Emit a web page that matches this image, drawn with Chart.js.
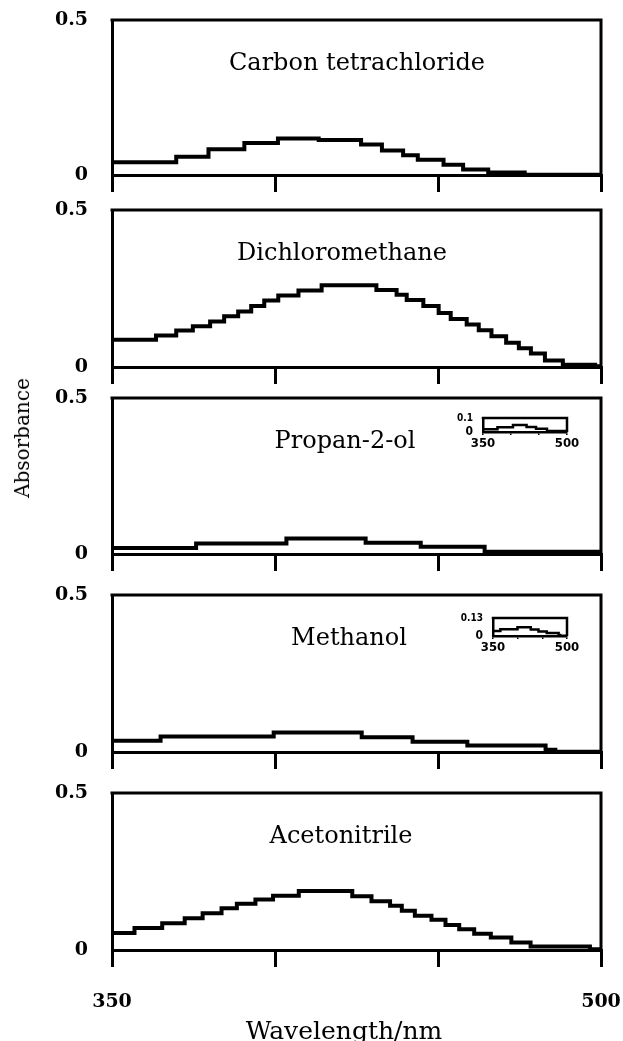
<!DOCTYPE html>
<html>
<head>
<meta charset="utf-8">
<script src="https://cdn.jsdelivr.net/npm/chart.js@4.4.0/dist/chart.umd.min.js"></script>
<style>
  body { margin: 0; background: #fff; width: 623px; height: 1041px; position: relative; overflow: hidden; }
  canvas { position: absolute; left: 0; }
  .lbl { position: absolute; font-family: "DejaVu Serif", serif; color: #000; white-space: nowrap; }
  #ylab { left: 22px; top: 438px; font-size: 20px; transform: translate(-50%, -50%) rotate(-90deg); }
  #xlab { left: 344px; top: 1030px; font-size: 25px; transform: translate(-50%, -50%); }
</style>
</head>
<body>
<canvas id="p1"></canvas>
<canvas id="p2"></canvas>
<canvas id="p3"></canvas>
<canvas id="p4"></canvas>
<canvas id="p5"></canvas>
<canvas id="i3"></canvas>
<canvas id="i4"></canvas>
<div class="lbl" id="ylab">Absorbance</div>
<div class="lbl" id="xlab">Wavelength/nm</div>
<script>
// wavelength ticks (nm)
const nmTicks = [350, 400, 450, 500];

// step start wavelengths and absorbance for each solvent
const ccl4Edges = [350, 369.7, 379.6, 390.6, 400.9, 413.4, 426.4, 432.8, 439.3, 443.8, 451.7, 457.7, 465.4, 476.6];
const ccl4Abs   = [0.041, 0.059, 0.083, 0.103, 0.118, 0.113, 0.098, 0.079, 0.064, 0.049, 0.033, 0.018, 0.008, 0.001];

const dcmEdges = [350, 363.5, 369.7, 374.8, 380.1, 384.4, 388.7, 392.7, 396.7, 401.0, 407.2, 414.3, 431.1, 437.3,
                  440.4, 445.5, 450.2, 453.9, 458.8, 462.5, 466.4, 470.9, 474.8, 478.5, 482.8, 488.3, 498.2];
const dcmAbs   = [0.087, 0.100, 0.116, 0.130, 0.145, 0.162, 0.177, 0.194, 0.212, 0.228, 0.244, 0.260, 0.245, 0.230,
                  0.213, 0.194, 0.172, 0.153, 0.135, 0.117, 0.098, 0.077, 0.060, 0.043, 0.021, 0.007, 0.002];

const iprEdges = [350, 375.8, 403.5, 427.8, 444.7, 464.3];
const iprAbs   = [0.019, 0.034, 0.050, 0.036, 0.023, 0.007];

const meohEdges = [350, 364.9, 399.6, 426.6, 442.2, 459.0, 483.0, 486.0];
const meohAbs   = [0.036, 0.049, 0.0625, 0.047, 0.033, 0.021, 0.007, 0.001];

const mecnEdges = [350, 356.9, 365.4, 372.3, 377.8, 383.6, 388.3, 394.0, 399.4, 407.3, 423.7, 429.6, 435.3, 438.9,
                   442.9, 448.0, 452.3, 456.5, 461.1, 466.2, 472.5, 478.4, 496.6];
const mecnAbs   = [0.054, 0.070, 0.085, 0.101, 0.117, 0.133, 0.147, 0.161, 0.173, 0.188, 0.171, 0.155, 0.141, 0.125,
                   0.109, 0.096, 0.080, 0.066, 0.052, 0.040, 0.024, 0.011, 0.002];

const solventNames = ['Carbon tetrachloride', 'Dichloromethane', 'Propan-2-ol', 'Methanol', 'Acetonitrile'];

function steps(edges, vals) {
  const pts = edges.map((x, i) => ({ x: x, y: vals[i] }));
  pts.push({ x: 500, y: vals[vals.length - 1] });
  return pts;
}

// keep the plot box where it is set, whatever the tick labels overhang
function noPad(s) {
  s.paddingTop = 0; s.paddingBottom = 0; s.paddingLeft = 0; s.paddingRight = 0;
}

// top and right edges of the box, plus the solvent name
const framePlugin = {
  id: 'frame',
  afterDraw(chart, args, opts) {
    const a = chart.chartArea, ctx = chart.ctx;
    ctx.save();
    ctx.strokeStyle = '#000';
    ctx.lineWidth = opts.width;
    ctx.beginPath();
    ctx.moveTo(a.left - opts.width / 2, a.top);
    ctx.lineTo(a.right, a.top);
    ctx.lineTo(a.right, a.bottom);
    ctx.stroke();
    if (opts.name) {
      ctx.fillStyle = '#000';
      ctx.font = '24px "DejaVu Serif", serif';
      ctx.textAlign = 'center';
      ctx.textBaseline = 'middle';
      ctx.fillText(opts.name, opts.nameX, a.top + opts.nameDy);
    }
    ctx.restore();
  }
};
Chart.register(framePlugin);

const panels = [
  { id: 'p1', top: 20,  zero: 175, edges: ccl4Edges, vals: ccl4Abs, nameX: 357 },
  { id: 'p2', top: 210, zero: 367, edges: dcmEdges,  vals: dcmAbs,  nameX: 342 },
  { id: 'p3', top: 398, zero: 554, edges: iprEdges,  vals: iprAbs,  nameX: 345 },
  { id: 'p4', top: 595, zero: 752, edges: meohEdges, vals: meohAbs, nameX: 349 },
  { id: 'p5', top: 793, zero: 950, edges: mecnEdges, vals: mecnAbs, nameX: 341, last: true }
];

const tickFont = { family: '"DejaVu Serif", serif', size: 19, weight: 'bold' };

panels.forEach(function (p, idx) {
  const padTop = 14;
  const axisH = p.last ? 72 : 20;
  const cv = document.getElementById(p.id);
  const h = (p.zero - p.top) + padTop + axisH;
  cv.width = 623; cv.height = h;
  cv.style.top = (p.top - padTop) + 'px';
  cv.style.width = '623px'; cv.style.height = h + 'px';

  new Chart(cv, {
    type: 'line',
    data: {
      datasets: [{
        data: steps(p.edges, p.vals),
        stepped: 'before',
        borderColor: '#000',
        borderWidth: 4,
        pointRadius: 0,
        fill: false
      }]
    },
    options: {
      responsive: false,
      animation: false,
      layout: { padding: { top: padTop, right: 22, left: 0, bottom: 0 } },
      plugins: {
        legend: { display: false },
        tooltip: { enabled: false },
        frame: { width: 3, name: solventNames[idx], nameX: p.nameX, nameDy: 44 }
      },
      scales: {
        x: {
          type: 'linear', min: 350, max: 500,
          afterBuildTicks: s => { s.ticks = nmTicks.map(v => ({ value: v })); },
          afterFit: s => { s.height = axisH; noPad(s); },
          grid: { drawOnChartArea: false, drawTicks: true, tickLength: 17, lineWidth: 3, color: '#000' },
          border: { display: true, width: 3, color: '#000' },
          ticks: {
            display: !!p.last,
            autoSkip: false,
            maxRotation: 0,
            padding: 24,
            color: '#000',
            font: tickFont,
            callback: v => (v === 350 || v === 500) ? String(v) : ''
          }
        },
        y: {
          min: 0, max: 0.5,
          afterBuildTicks: s => { s.ticks = [{ value: 0 }, { value: 0.5 }]; },
          afterFit: s => { s.width = 112; noPad(s); },
          grid: { display: false },
          border: { display: true, width: 3, color: '#000' },
          ticks: {
            autoSkip: false,
            padding: 16,
            color: '#000',
            font: tickFont,
            callback: v => v === 0 ? '0' : String(v)
          }
        }
      }
    }
  });
});

// small full-scale views of the two weakest spectra
const insets = [
  { id: 'i3', left: 483, right: 567, top: 418, bottom: 432, yMax: 0.1,  yLabel: '0.1',  edges: iprEdges,  vals: iprAbs },
  { id: 'i4', left: 493, right: 567, top: 618, bottom: 636, yMax: 0.13, yLabel: '0.13', edges: meohEdges, vals: meohAbs }
];

const smallFamily = '"Liberation Sans Narrow", "DejaVu Sans Condensed", sans-serif';

insets.forEach(function (q) {
  const cv = document.getElementById(q.id);
  const offX = 440, padTop = 8, axisH = 22;
  const w = 150, h = (q.bottom - q.top) + padTop + axisH;
  cv.width = w; cv.height = h;
  cv.style.left = offX + 'px'; cv.style.top = (q.top - padTop) + 'px';
  cv.style.width = w + 'px'; cv.style.height = h + 'px';

  new Chart(cv, {
    type: 'line',
    data: {
      datasets: [{
        data: steps(q.edges, q.vals),
        stepped: 'before',
        borderColor: '#000',
        borderWidth: 2.5,
        pointRadius: 0,
        fill: false
      }]
    },
    options: {
      responsive: false,
      animation: false,
      layout: { padding: { top: padTop, right: w - (q.right - offX), left: 0, bottom: 0 } },
      plugins: {
        legend: { display: false },
        tooltip: { enabled: false },
        frame: { width: 2.5 }
      },
      scales: {
        x: {
          type: 'linear', min: 350, max: 500,
          afterBuildTicks: s => { s.ticks = nmTicks.map(v => ({ value: v })); },
          afterFit: s => { s.height = axisH; noPad(s); },
          grid: { drawOnChartArea: false, drawTicks: true, tickLength: 3, lineWidth: 1.5, color: '#000' },
          border: { display: true, width: 2.5, color: '#000' },
          ticks: {
            autoSkip: false, maxRotation: 0, padding: 1, color: '#000',
            font: { family: smallFamily, size: 13, weight: 'bold' },
            callback: v => (v === 350 || v === 500) ? String(v) : ''
          }
        },
        y: {
          min: 0, max: q.yMax,
          afterBuildTicks: s => { s.ticks = [{ value: 0 }, { value: q.yMax }]; },
          afterFit: s => { s.width = q.left - offX; noPad(s); },
          grid: { display: false },
          border: { display: true, width: 2.5, color: '#000' },
          ticks: {
            autoSkip: false, padding: 2, color: '#000',
            font: c => ({ family: smallFamily, size: c.tick && c.tick.value === 0 ? 12 : 10, weight: 'bold' }),
            callback: v => v === 0 ? '0' : q.yLabel
          }
        }
      }
    }
  });
});
</script>
</body>
</html>
